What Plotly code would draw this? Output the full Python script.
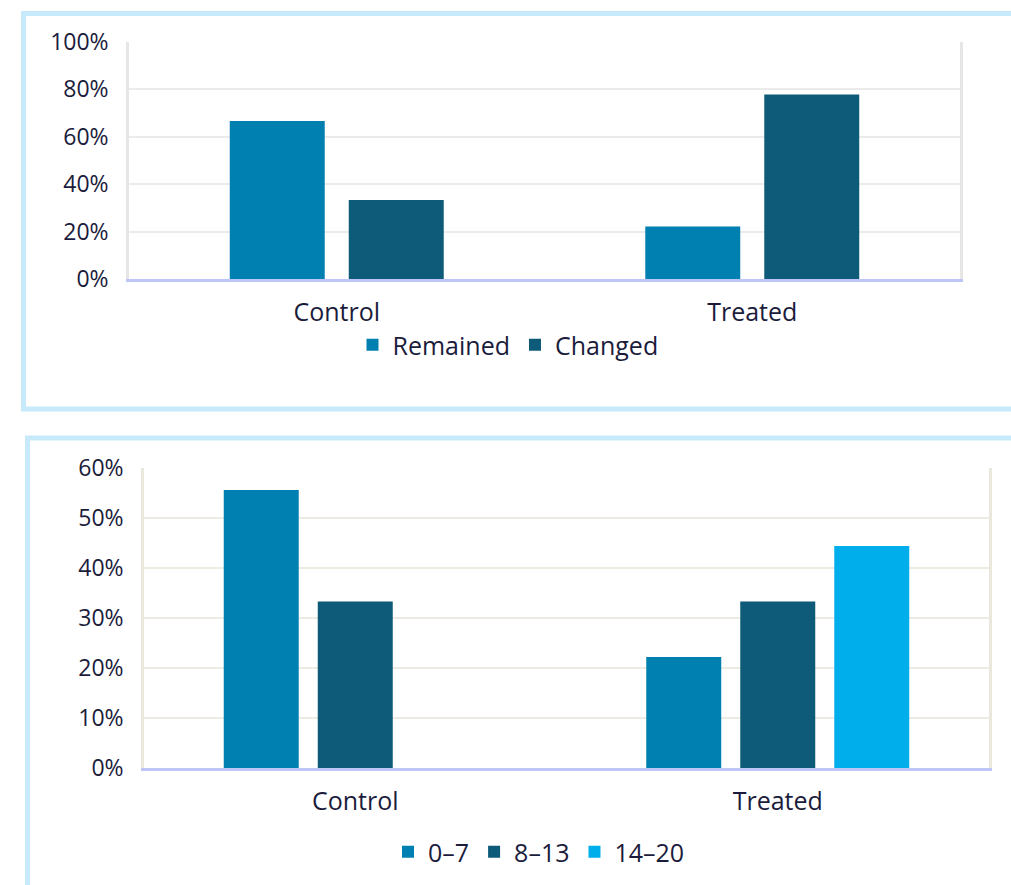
import plotly.graph_objects as go

W, H = 1011, 885

categories = ["Control", "Treated"]

# Top chart
top_series = ["Remained", "Changed"]
remained = [0.667, 0.222]
changed = [0.333, 0.778]
top_ticks = [0, 0.2, 0.4, 0.6, 0.8, 1.0]
top_ticklabels = ["0%", "20%", "40%", "60%", "80%", "100%"]

# Bottom chart
bottom_series = ["0–7", "8–13", "14–20"]
s_0_7 = [0.556, 0.222]
s_8_13 = [0.333, 0.333]
s_14_20 = [0.0, 0.444]
bot_ticks = [0, 0.1, 0.2, 0.3, 0.4, 0.5, 0.6]
bot_ticklabels = ["0%", "10%", "20%", "30%", "40%", "50%", "60%"]

C1 = "#0080B1"
C2 = "#0E5B79"
C3 = "#00AEEB"
TXT = "#1B1C3C"
FONT = "Century Gothic, Open Sans, sans-serif"
FS_TICK = 23
FS_CAT = 25


def px(x):
    return x / W


def py(y):
    return (H - y) / H


# bar geometry (fractions of one category slot)
top_w, top_gap = 0.2286, 0.0578
top_offsets = [-(top_w + top_gap / 2), top_gap / 2]
bot_w, bot_gap = 0.1775, 0.045
bot_offsets = [-(1.5 * bot_w + bot_gap), -bot_w / 2, bot_w / 2 + bot_gap]

fig = go.Figure()
for name, vals, col, off in zip(top_series, [remained, changed], [C1, C2], top_offsets):
    fig.add_trace(go.Bar(x=categories, y=vals, name=name, marker_color=col,
                         marker_line_width=0, xaxis="x", yaxis="y", legend="legend",
                         width=top_w, offset=off))
for name, vals, col, off in zip(bottom_series, [s_0_7, s_8_13, s_14_20], [C1, C2, C3], bot_offsets):
    fig.add_trace(go.Bar(x=categories, y=vals, name=name, marker_color=col,
                         marker_line_width=0, xaxis="x2", yaxis="y2", legend="legend2",
                         width=bot_w, offset=off))

tick_font = dict(size=FS_TICK, color=TXT, family=FONT)
cat_font = dict(size=FS_CAT, color=TXT, family=FONT)

fig.update_layout(
    width=W, height=H,
    margin=dict(l=0, r=0, t=0, b=0, autoexpand=False),
    paper_bgcolor="white", plot_bgcolor="white",
    font=dict(family=FONT, size=FS_CAT, color=TXT),
    barmode="overlay",
    showlegend=True,
    xaxis=dict(domain=[px(129), px(960)], anchor="y", showgrid=False, automargin=False,
               showline=True, linecolor="#BEC6F7", linewidth=2.5,
               ticks="", ticklabelstandoff=9, tickfont=cat_font),
    yaxis=dict(domain=[py(279), py(42)], anchor="x", range=[0, 1.0], automargin=False,
               tickvals=top_ticks, ticktext=top_ticklabels,
               showgrid=True, gridcolor="#EBEBEB", gridwidth=2,
               showline=True, linecolor="#E6E6E6", linewidth=2.5, mirror=True,
               zeroline=False, ticks="", ticklabelstandoff=13, tickfont=tick_font),
    xaxis2=dict(domain=[px(144), px(989)], anchor="y2", showgrid=False, automargin=False,
                showline=True, linecolor="#BEC6F7", linewidth=2.5,
                ticks="", ticklabelstandoff=9, tickfont=cat_font),
    yaxis2=dict(domain=[py(768), py(468)], anchor="x2", range=[0, 0.6], automargin=False,
                tickvals=bot_ticks, ticktext=bot_ticklabels,
                showgrid=True, gridcolor="#EEECE2", gridwidth=2,
                showline=True, linecolor="#EAE8DC", linewidth=2.5, mirror=True,
                zeroline=False, ticks="", ticklabelstandoff=13, tickfont=tick_font),
    legend=dict(orientation="h", x=px(508), xanchor="center", y=py(345), yanchor="middle",
                font=cat_font, bgcolor="rgba(0,0,0,0)",
                itemclick=False, tracegroupgap=0, itemwidth=30),
    legend2=dict(orientation="h", x=px(539), xanchor="center", y=py(852), yanchor="middle",
                 font=cat_font, bgcolor="rgba(0,0,0,0)",
                 itemclick=False, tracegroupgap=0, itemwidth=30),
    shapes=[
        dict(type="rect", xref="paper", yref="paper",
             x0=px(23.5), x1=px(1030), y0=py(409), y1=py(13.5),
             line=dict(color="#C6EAF9", width=5), fillcolor="rgba(0,0,0,0)", layer="below"),
        dict(type="rect", xref="paper", yref="paper",
             x0=px(27.5), x1=px(1030), y0=py(910), y1=py(438),
             line=dict(color="#C6EAF9", width=5), fillcolor="rgba(0,0,0,0)", layer="below"),
    ],
)

fig.write_html("out.html")
